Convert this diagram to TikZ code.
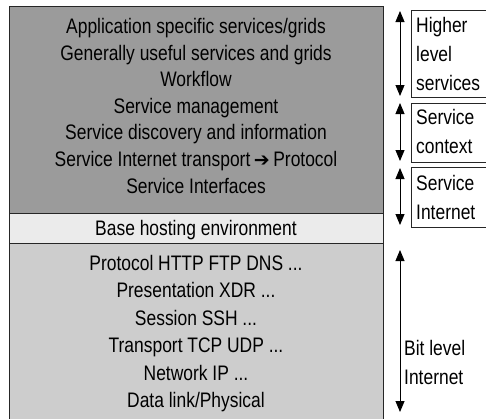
\documentclass[tikz,border=0pt]{standalone}
\usepackage{fontspec}
\setmainfont{Liberation Sans}[FakeStretch=0.83]
\newfontfamily\symfont{DejaVu Sans}
\usetikzlibrary{arrows.meta}
\definecolor{servgray}{HTML}{9B9B9B}
\definecolor{hostgray}{HTML}{EBEBEB}
\definecolor{bitgray}{HTML}{CDCDCD}
\newcommand\etcdots{...}
\newcommand\toarrow{{\symfont\fontsize{19}{19}\selectfont ➔}}
\begin{document}
\begin{tikzpicture}[x=1pt,y=-1pt,
    layer/.style={font=\fontsize{21}{24}\selectfont, inner sep=0pt, anchor=base, text=black},
    side/.style={font=\fontsize{21}{29}\selectfont, inner sep=0pt, anchor=west, align=left, text=black},
    updown/.style={{Triangle[width=9pt,length=11pt]}-{Triangle[width=9pt,length=11pt]}, line width=0.9pt}]
    \useasboundingbox (0,0) rectangle (486,418);
    {
    \def\toplayers{(9,6) rectangle (383,213)}
    \def\baselayer{(9,213) rectangle (383,243)}
    \def\bitlayers{(9,243) rectangle (383,420)}
    \def\higherbox{(411,10) rectangle (488,97)}
    \def\contextbox{(411,103) rectangle (488,162)}
    \def\internetbox{(411,167) rectangle (488,227)}

    \fill[servgray] \toplayers;
    \fill[hostgray] \baselayer;
    \fill[bitgray] \bitlayers;
    \fill[white] \higherbox;
    \fill[white] \contextbox;
    \fill[white] \internetbox;

    \draw[black!85, line width=0.9pt] \toplayers;
    \draw[black!85, line width=0.9pt] \baselayer;
    \draw[black!85, line width=0.9pt] \bitlayers;
    \draw[black!85, line width=0.6pt] \higherbox;
    \draw[black!85, line width=0.6pt] \contextbox;
    \draw[black!85, line width=0.6pt] \internetbox;
}

    % service layers
    \foreach \txt [count=\i from 0] in {Application specific services/grids,
        Generally useful services and grids, Workflow, Service management,
        Service discovery and information, Service Internet transport\,\toarrow\,Protocol,
        Service Interfaces}
        \node[layer] (serv\i) at (196,33.5+26.6*\i) {\txt};

    \node[layer] (host) at (196,235.5) {Base hosting environment};

    % bit level layers
    \foreach \txt [count=\i from 0] in {Protocol HTTP FTP DNS \etcdots, Presentation XDR \etcdots,
        Session SSH \etcdots, Transport TCP UDP \etcdots, Network IP \etcdots, Data link/Physical}
        \node[layer] (bit\i) at (196,270.5+27.4*\i) {\txt};

    % side labels
    \node[side] (higher) at (416,53.5) {Higher\\level\\services};
    \node[side] (context) at (416,131) {Service\\context};
    \node[side] (sinternet) at (416,197) {Service\\Internet};
    \node[side] (bitlevel) at (404,362) {Bit level\\Internet};

    \coordinate (higher-top) at (400,11);
    \coordinate (higher-bot) at (400,96);
    \coordinate (context-top) at (400,103);
    \coordinate (context-bot) at (400,161);
    \coordinate (sinternet-top) at (400,168);
    \coordinate (sinternet-bot) at (400,225);
    \coordinate (bitlevel-top) at (400,250);
    \coordinate (bitlevel-bot) at (400,412);

    \draw[updown] (higher-top) -- (higher-bot);
    \draw[updown] (context-top) -- (context-bot);
    \draw[updown] (sinternet-top) -- (sinternet-bot);
    \draw[updown] (bitlevel-top) -- (bitlevel-bot);
\end{tikzpicture}
\end{document}
